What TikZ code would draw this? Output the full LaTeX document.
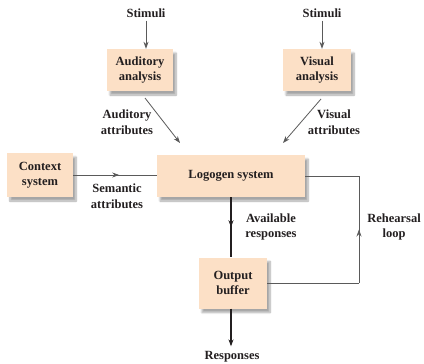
\documentclass[tikz,border=0pt]{standalone}
\usepackage{fontspec}
\setmainfont{Liberation Serif}
\usetikzlibrary{arrows.meta,decorations.markings,shadows.blur}
\definecolor{ink}{HTML}{231F20}
\definecolor{peach}{HTML}{FCE0C6}
\definecolor{wire}{HTML}{5A5A5A}
\tikzset{
  box/.style={fill=peach, draw=none, align=center, font=\bfseries\fontsize{12.5}{15}\selectfont, text=ink,
    blur shadow={shadow xshift=3pt, shadow yshift=-4pt, shadow blur steps=8, shadow opacity=35}},
  lbl/.style={align=center, font=\bfseries\fontsize{12.5}{15.5}\selectfont, text=ink, inner sep=0pt},
  tip/.style={-{Stealth[length=7pt,width=5pt]}},
  arr/.style={draw=wire, line width=0.8pt, tip},
  midarr/.style={postaction={decorate},
    decoration={markings, mark=at position #1 with {\arrow{Stealth[length=7pt,width=5pt]}}}},
  midarr/.default=0.55
}
\begin{document}
\begin{tikzpicture}[x=1pt,y=-1pt]
\useasboundingbox (0,0) rectangle (424,364);

% processing boxes
\node[box, minimum width=66pt, minimum height=42pt] (aud) at (140,70) {Auditory\\analysis};
\node[box, minimum width=68pt, minimum height=42pt] (vis) at (317,70) {Visual\\analysis};
\node[box, minimum width=66pt, minimum height=44pt] (ctx) at (40,175) {Context\\system};
\node[box, minimum width=148pt, minimum height=42pt] (logo) at (231,176) {Logogen system};
\node[box, minimum width=68pt, minimum height=51pt] (out) at (233,283) {Output\\buffer};

% inputs and outputs
\node[lbl] (stimA) at (146,13) {Stimuli};
\node[lbl] (stimV) at (322,13) {Stimuli};
\node[lbl] (resp) at (232,357) {Responses};

% arrow labels
\node[lbl] (audattr) at (127,122) {Auditory\\attributes};
\node[lbl] (visattr) at (334,122) {Visual\\attributes};
\node[lbl] (semattr) at (117,196) {Semantic\\attributes};
\node[lbl] (avail) at (271,227) {Available\\responses};
\node[lbl] (reh) at (394,227) {Rehearsal\\loop};

% stimulus inputs
\draw[arr] ([yshift=-3pt]stimA.south) -- (stimA.south |- aud.north);
\draw[arr] ([yshift=-3pt]stimV.south) -- (stimV.south |- vis.north);

% attribute flows into the logogen system
\coordinate (a0) at (145,98);
\coordinate (a1) at (180,143);
\coordinate (v0) at (321,99);
\coordinate (v1) at (283,143);
\draw[arr] (a0) -- (a1);
\draw[arr] (v0) -- (v1);
\draw[draw=wire, line width=0.8pt, midarr=0.55] (ctx.east) -- (ctx.east -| logo.west);

% logogen to buffer, buffer to responses
\draw[draw=ink, line width=1.2pt, midarr=0.5] (logo.south) -- (logo.south |- out.north);
\draw[draw=ink, line width=1.2pt, tip] (logo.south |- out.south) -- ([yshift=5pt]logo.south |- resp.north);

% rehearsal loop
\coordinate (rtop) at (359,176);
\coordinate (rbot) at (359,283);
\draw[draw=wire, line width=0.8pt] (logo.east) -- (rtop);
\draw[draw=wire, line width=0.8pt] (out.east) -- (rbot);
\draw[draw=wire, line width=0.8pt, midarr=0.5] (rbot) -- (rtop);
\end{tikzpicture}
\end{document}
